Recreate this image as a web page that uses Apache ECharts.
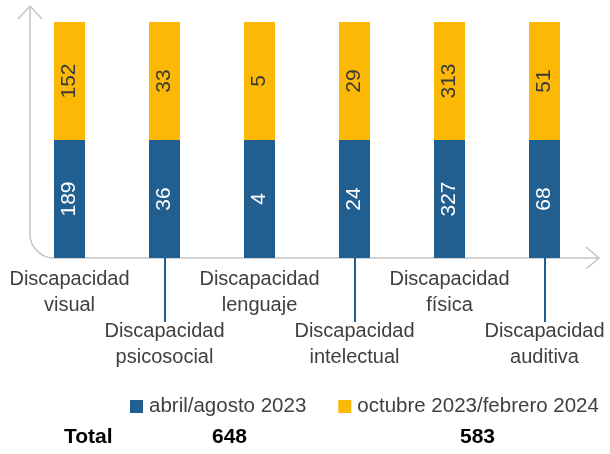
<!doctype html>
<html>
<head>
<meta charset="utf-8">
<title>Discapacidad</title>
<script type="text/javascript" src="https://cdn.jsdelivr.net/npm/echarts@6/dist/echarts.min.js"></script>
</head>
<body style="margin:0;padding:0">
<div id="tb" style="width:610px;height:454px;"></div>
<script>
// datos
var categorias = ['Discapacidad visual', 'Discapacidad psicosocial', 'Discapacidad lenguaje',
                  'Discapacidad intelectual', 'Discapacidad física', 'Discapacidad auditiva'];
var abrilAgosto = [189, 36, 4, 24, 327, 68];
var octubreFebrero = [152, 33, 5, 29, 313, 51];
var nombres = ['abril/agosto 2023', 'octubre 2023/febrero 2024'];
// cada tramo se dibuja con la misma altura, el valor va en la etiqueta
var alturaTramo = [1, 1, 1, 1, 1, 1];

var azul = '#215F91';
var amarillo = '#FBB905';
var gris = '#c4c4c4';
var fuente = 'Liberation Sans, Arial, sans-serif';

var suma = function (arr) { return arr.reduce(function (a, b) { return a + b; }, 0); };
var trazo = { fill: null, stroke: gris, lineWidth: 1.5 };

var chart = echarts.init(document.getElementById('tb'));

chart.setOption({
    animation: false,
    textStyle: { fontFamily: fuente },
    grid: { left: 22, right: 18, top: 22, bottom: 196, containLabel: false },
    legend: {
        left: 125,
        top: 391,
        itemWidth: 13,
        itemHeight: 13,
        itemGap: 32,
        icon: 'rect',
        textStyle: { fontSize: 20.5, color: '#404040', fontFamily: fuente, padding: [0, 0, 0, 1] }
    },
    xAxis: {
        type: 'category',
        data: categorias,
        axisLine: { show: false },
        axisTick: {
            show: true,
            alignWithLabel: true,
            length: 64,
            interval: function (i) { return i % 2 === 1; },
            lineStyle: { color: azul, width: 2 }
        },
        axisLabel: {
            interval: 0,
            margin: 8,
            fontSize: 20,
            lineHeight: 26,
            color: '#404040',
            fontFamily: fuente,
            formatter: function (v, i) {
                var t = v.replace(' ', '\n');
                return i % 2 === 1 ? '\n\n' + t : t;
            }
        }
    },
    yAxis: { type: 'value', min: 0, max: 2, show: false },
    graphic: [
        { type: 'line', shape: { x1: 30, y1: 7, x2: 30, y2: 234 }, style: trazo, z: 0 },
        { type: 'arc', shape: { cx: 54, cy: 234, r: 24, startAngle: Math.PI / 2, endAngle: Math.PI, clockwise: true }, style: trazo, z: 0 },
        { type: 'line', shape: { x1: 54, y1: 258, x2: 599, y2: 258 }, style: trazo, z: 0 },
        { type: 'polyline', shape: { points: [[18, 19], [30, 6], [42, 19]] }, style: trazo },
        { type: 'polyline', shape: { points: [[586, 247], [599, 258], [586, 269]] }, style: trazo },
        {
            type: 'text', left: 64, top: 427,
            style: { text: 'Total', fontSize: 21, fontWeight: 'bold', fill: '#000', fontFamily: fuente }
        },
        {
            type: 'text', left: 212, top: 427,
            style: { text: String(suma(abrilAgosto)), fontSize: 21, fontWeight: 'bold', fill: '#000', fontFamily: fuente }
        },
        {
            type: 'text', left: 460, top: 427,
            style: { text: String(suma(octubreFebrero)), fontSize: 21, fontWeight: 'bold', fill: '#000', fontFamily: fuente }
        }
    ],
    series: [
        {
            name: nombres[0],
            type: 'bar',
            stack: 'total',
            barWidth: 31,
            data: alturaTramo,
            itemStyle: { color: azul },
            label: {
                show: true,
                position: 'inside',
                rotate: 90,
                fontSize: 21,
                color: '#fff',
                fontFamily: fuente,
                formatter: function (p) { return abrilAgosto[p.dataIndex]; }
            }
        },
        {
            name: nombres[1],
            type: 'bar',
            stack: 'total',
            barWidth: 31,
            data: alturaTramo,
            itemStyle: { color: amarillo },
            label: {
                show: true,
                position: 'inside',
                rotate: 90,
                fontSize: 21,
                color: '#3a3a3a',
                fontFamily: fuente,
                formatter: function (p) { return octubreFebrero[p.dataIndex]; }
            }
        }
    ]
});
</script>
</body>
</html>
